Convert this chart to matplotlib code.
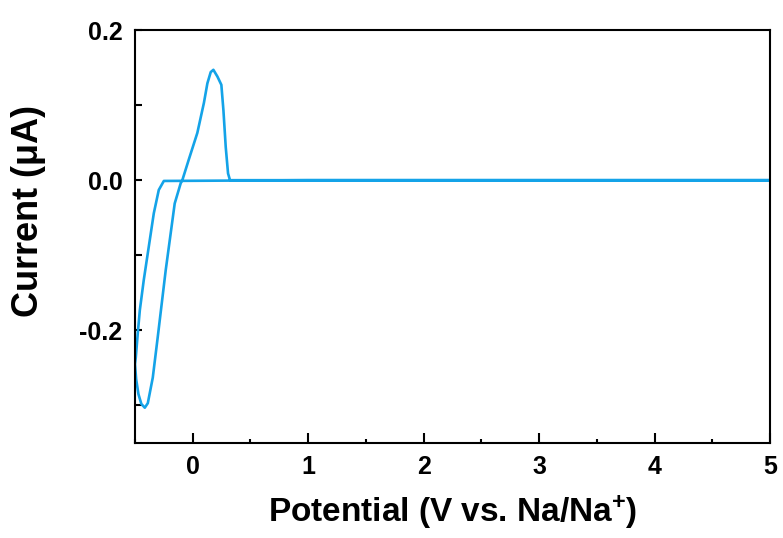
import matplotlib
matplotlib.use("Agg")
from matplotlib import pyplot as plt
from matplotlib.ticker import MultipleLocator

plt.rcParams['font.family'] = ['Liberation Sans', 'DejaVu Sans']
plt.rcParams['font.weight'] = 'bold'
plt.rcParams['mathtext.fontset'] = 'custom'
plt.rcParams['mathtext.bf'] = 'Liberation Sans:bold'
plt.rcParams['mathtext.rm'] = 'Liberation Sans'
plt.rcParams['mathtext.default'] = 'bf'

# cyclic voltammogram: cathodic scan 5 V -> -0.5 V, then anodic scan back to 5 V
potential = [5.0, 1.0, -0.25, -0.294, -0.337, -0.381, -0.424, -0.458, -0.476, -0.493,
             -0.5, -0.49, -0.47, -0.445, -0.415, -0.389, -0.346, -0.303, -0.234,
             -0.156, -0.104, -0.09, -0.035, 0.04, 0.097, 0.127, 0.156, 0.179,
             0.214, 0.248, 0.266, 0.286, 0.306, 0.323, 1.0, 5.0]
current = [0.0, 0.0, -0.001, -0.013, -0.044, -0.089, -0.133, -0.173, -0.204, -0.236,
           -0.245, -0.265, -0.285, -0.298, -0.303, -0.297, -0.263, -0.209, -0.12,
           -0.031, -0.004, 0.0, 0.027, 0.063, 0.103, 0.129, 0.144, 0.147,
           0.138, 0.127, 0.093, 0.044, 0.009, 0.0, 0.0, 0.0]

fig = plt.figure(figsize=(7.83, 5.38), dpi=100)
ax = fig.add_axes([0.1724, 0.1766, 0.8110, 0.7676])

ax.plot(potential, current, color='#14a3e8', lw=1.9, solid_joinstyle='round')

ax.set_xlim(-0.5, 5)
ax.set_ylim(-0.35, 0.2)
ax.xaxis.set_major_locator(MultipleLocator(1))
ax.xaxis.set_minor_locator(MultipleLocator(0.5))
ax.yaxis.set_major_locator(MultipleLocator(0.2))
ax.yaxis.set_minor_locator(MultipleLocator(0.1))
ax.yaxis.set_major_formatter(plt.FuncFormatter(lambda v, p: '%.1f' % v))

for s in ax.spines.values():
    s.set_linewidth(1.5)
ax.tick_params(which='both', direction='in', width=1.5, labelsize=18, pad=9)
ax.tick_params(axis='x', which='major', length=7)
ax.tick_params(axis='x', which='minor', length=3)
ax.tick_params(axis='y', which='both', length=5)

ax.set_xlabel('Potential (V vs. Na/Na$^{+}$)', fontsize=24, fontweight='bold', labelpad=10)
ax.set_ylabel(r'Current ($\mathrm{\mu}$A)', fontsize=26, fontweight='bold')
ax.yaxis.set_label_coords(-0.137, 0.56)

fig.savefig('out.png', dpi=100)
